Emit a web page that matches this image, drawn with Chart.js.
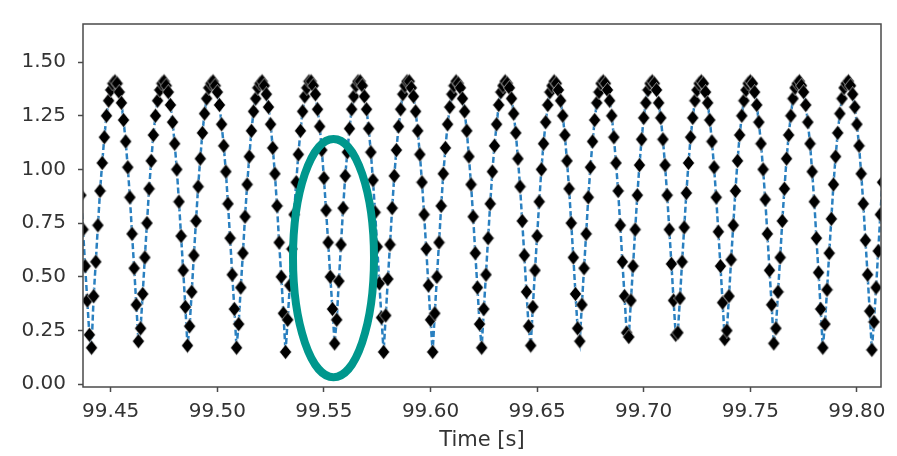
<!DOCTYPE html>
<html>
<head>
<meta charset="utf-8">
<script src="https://cdn.jsdelivr.net/npm/chart.js@4.4.1/dist/chart.umd.min.js"></script>
<style>
  html, body { margin: 0; padding: 0; background: #fff; }
  #wrap { width: 897px; height: 456px; }
</style>
</head>
<body>
<div id="wrap"><canvas id="signalChart" width="897" height="456"></canvas></div>
<script>
// signal sampled at 1 kHz, first sample at startTime
const startTime = 99.436;
const sampleStep = 0.001;
const signal = [
  0.88, 0.72, 0.55, 0.39, 0.23, 0.17, 0.41, 0.57, 0.74,
  0.90, 1.03, 1.15, 1.25, 1.32, 1.37, 1.40, 1.41, 1.40, 1.36, 1.31, 1.23, 1.13, 1.01, 0.87,
  0.70, 0.54, 0.37, 0.20, 0.26, 0.42, 0.59, 0.75,
  0.91, 1.04, 1.16, 1.25, 1.32, 1.37, 1.40, 1.41, 1.39, 1.36, 1.30, 1.22, 1.12, 1.00, 0.85,
  0.69, 0.53, 0.36, 0.18, 0.27, 0.43, 0.60, 0.76,
  0.92, 1.05, 1.17, 1.26, 1.33, 1.38, 1.40, 1.41, 1.39, 1.36, 1.30, 1.21, 1.11, 0.99, 0.84,
  0.68, 0.51, 0.35, 0.17, 0.28, 0.45, 0.61, 0.78,
  0.93, 1.06, 1.18, 1.27, 1.33, 1.38, 1.40, 1.41, 1.39, 1.35, 1.29, 1.21, 1.10, 0.98, 0.83,
  0.66, 0.50, 0.33, 0.15, 0.30, 0.46, 0.63,
  0.79, 0.94, 1.07, 1.18, 1.27, 1.34, 1.38, 1.41, 1.41, 1.39, 1.35, 1.28, 1.20, 1.09, 0.96, 0.81,
  0.66, 0.50, 0.35, 0.19, 0.30, 0.48, 0.65,
  0.82, 0.97, 1.08, 1.19, 1.28, 1.34, 1.39, 1.41, 1.41, 1.39, 1.34, 1.28, 1.19, 1.08, 0.95, 0.80,
  0.64, 0.47, 0.31, 0.15, 0.32, 0.49, 0.65,
  0.82, 0.97, 1.09, 1.20, 1.28, 1.35, 1.39, 1.41, 1.41, 1.38, 1.34, 1.27, 1.18, 1.07, 0.94, 0.79,
  0.63, 0.46, 0.30, 0.15, 0.33, 0.50, 0.66,
  0.83, 0.98, 1.10, 1.21, 1.29, 1.35, 1.39, 1.41, 1.40, 1.38, 1.33, 1.27, 1.18, 1.06, 0.93,
  0.78, 0.61, 0.45, 0.28, 0.17, 0.35, 0.51, 0.68,
  0.84, 0.99, 1.11, 1.21, 1.30, 1.36, 1.39, 1.41, 1.40, 1.38, 1.33, 1.26, 1.17, 1.05, 0.92,
  0.76, 0.60, 0.43, 0.27, 0.18, 0.36, 0.53, 0.69,
  0.85, 1.00, 1.12, 1.22, 1.30, 1.36, 1.39, 1.41, 1.40, 1.37, 1.32, 1.25, 1.16, 1.04, 0.91,
  0.75, 0.59, 0.42, 0.26, 0.20, 0.37, 0.54, 0.70,
  0.87, 1.01, 1.13, 1.23, 1.31, 1.36, 1.40, 1.41, 1.40, 1.37, 1.32, 1.25, 1.15, 1.03, 0.90,
  0.74, 0.57, 0.41, 0.24, 0.22, 0.39, 0.55, 0.72,
  0.88, 1.02, 1.14, 1.24, 1.31, 1.37, 1.40, 1.41, 1.40, 1.37, 1.31, 1.24, 1.14, 1.02, 0.88,
  0.72, 0.56, 0.39, 0.23, 0.24, 0.40, 0.57, 0.73,
  0.89, 1.03, 1.15, 1.24, 1.32, 1.37, 1.40, 1.41, 1.40, 1.36, 1.31, 1.23, 1.13, 1.01, 0.87,
  0.71, 0.55, 0.38, 0.21, 0.25, 0.41, 0.58, 0.74,
  0.90, 1.04, 1.16, 1.25, 1.32, 1.37, 1.40, 1.41, 1.40, 1.36, 1.30, 1.22, 1.12, 1.00, 0.86,
  0.70, 0.53, 0.37, 0.19, 0.26, 0.43, 0.59, 0.76,
  0.91, 1.05, 1.16, 1.25, 1.33, 1.38, 1.40, 1.41, 1.39, 1.36, 1.30, 1.22, 1.12, 0.99, 0.85,
  0.68, 0.52, 0.35, 0.17, 0.28, 0.44, 0.61, 0.77,
  0.93, 1.06, 1.17, 1.26, 1.33, 1.38, 1.40, 1.41, 1.39, 1.35, 1.29, 1.21, 1.11, 0.98, 0.84,
  0.67, 0.51, 0.34, 0.16, 0.29, 0.45, 0.62,
  0.79, 0.94
];

const xTicks = [99.45, 99.50, 99.55, 99.60, 99.65, 99.70, 99.75, 99.80];
const yTicks = [0.00, 0.25, 0.50, 0.75, 1.00, 1.25, 1.50];
const xRange = [99.437, 99.8113];
const yRange = [-0.013, 1.677];

// ring drawn around one of the troughs (data units)
const ringCenter = [99.5545, 0.587];
const ringRadius = [0.0190, 0.555];

const points = signal.map((v, i) => ({ x: startTime + i * sampleStep, y: v }));

// black diamond marker with a thin light edge, a bit taller than wide
function diamondMarker(w, h) {
  const c = document.createElement('canvas');
  c.width = w;
  c.height = h;
  const g = c.getContext('2d');
  g.beginPath();
  g.moveTo(w / 2, 0.5);
  g.lineTo(w - 0.5, h / 2);
  g.lineTo(w / 2, h - 0.5);
  g.lineTo(0.5, h / 2);
  g.closePath();
  g.fillStyle = '#000';
  g.fill();
  g.strokeStyle = 'rgba(255,255,255,0.7)';
  g.lineWidth = 0.8;
  g.stroke();
  return c;
}

const axesFrame = {
  id: 'axesFrame',
  afterDatasetsDraw(chart) {
    const { ctx, chartArea: a, scales } = chart;
    ctx.save();
    ctx.strokeStyle = '#4a4a4a';
    ctx.lineWidth = 1.5;
    ctx.strokeRect(a.left, a.top, a.right - a.left, a.bottom - a.top);

    const cx = scales.x.getPixelForValue(ringCenter[0]);
    const cy = scales.y.getPixelForValue(ringCenter[1]);
    const rx = Math.abs(scales.x.getPixelForValue(ringCenter[0] + ringRadius[0]) - cx);
    const ry = Math.abs(scales.y.getPixelForValue(ringCenter[1] + ringRadius[1]) - cy);
    ctx.beginPath();
    ctx.ellipse(cx, cy, rx, ry, 0, 0, Math.PI * 2);
    ctx.strokeStyle = '#00978d';
    ctx.lineWidth = 8;
    ctx.stroke();
    ctx.restore();
  }
};

const tickFont = { family: 'DejaVu Sans', size: 20 };

new Chart(document.getElementById('signalChart'), {
  type: 'line',
  data: {
    datasets: [{
      data: points,
      borderColor: '#2a80c0',
      borderWidth: 2.5,
      borderDash: [6, 3],
      pointStyle: diamondMarker(13, 16),
      pointRadius: 8,
      pointHoverRadius: 8,
      tension: 0,
      clip: 0
    }]
  },
  options: {
    responsive: false,
    animation: false,
    events: [],
    layout: { padding: { top: 11, right: 16, left: 0, bottom: 0 } },
    plugins: {
      legend: { display: false },
      tooltip: { enabled: false }
    },
    scales: {
      x: {
        type: 'linear',
        min: xRange[0],
        max: xRange[1],
        afterBuildTicks: s => { s.ticks = xTicks.map(v => ({ value: v })); },
        afterFit: s => { s.height = 69; },
        border: { display: false },
        grid: { drawOnChartArea: false, drawTicks: true, tickLength: 5, tickColor: '#4a4a4a', tickWidth: 1.5 },
        ticks: {
          font: tickFont,
          color: '#333',
          padding: 8,
          maxRotation: 0,
          callback: v => v.toFixed(2)
        },
        title: {
          display: true,
          text: 'Time [s]',
          font: { family: 'DejaVu Sans', size: 21 },
          color: '#333',
          padding: { top: 0, bottom: 3 }
        }
      },
      y: {
        type: 'linear',
        min: yRange[0],
        max: yRange[1],
        afterBuildTicks: s => { s.ticks = yTicks.map(v => ({ value: v })); },
        afterFit: s => { s.width = 83; },
        border: { display: false },
        grid: { drawOnChartArea: false, drawTicks: true, tickLength: 5, tickColor: '#4a4a4a', tickWidth: 1.5 },
        ticks: {
          font: tickFont,
          color: '#333',
          padding: 12,
          callback: v => v.toFixed(2)
        }
      }
    }
  },
  plugins: [axesFrame]
});
</script>
</body>
</html>
